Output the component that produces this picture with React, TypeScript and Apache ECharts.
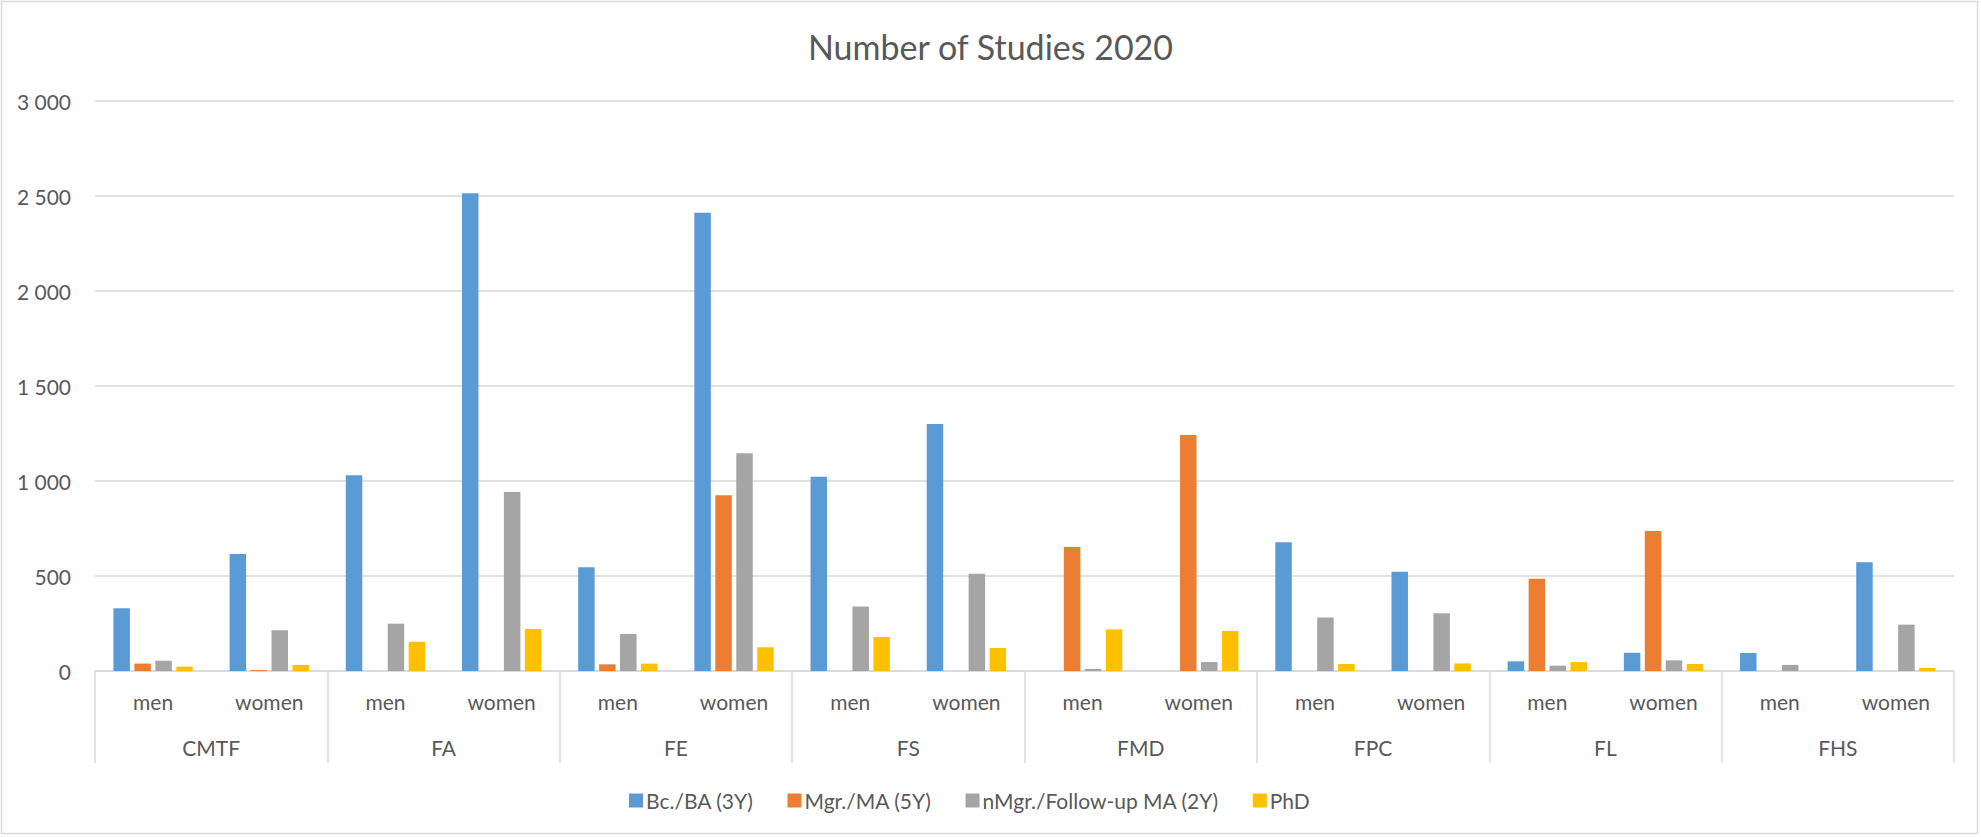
import React, { useEffect, useRef } from "react";
import * as echarts from "echarts";

const faculties = ["CMTF", "FA", "FE", "FS", "FMD", "FPC", "FL", "FHS"];
const genders = ["men", "women"];
const seriesNames = ["Bc./BA (3Y)", "Mgr./MA (5Y)", "nMgr./Follow-up MA (2Y)", "PhD"];
const bcBA = [330, 616, 1030, 2514, 546, 2412, 1023, 1300, 0, 0, 677, 523, 51, 96, 95, 572];
const mgrMA = [39, 5, 0, 0, 35, 925, 0, 0, 653, 1242, 0, 0, 486, 737, 0, 0];
const nMgr = [54, 214, 249, 942, 195, 1146, 339, 512, 11, 47, 281, 304, 28, 56, 32, 244];
const phd = [23, 32, 154, 221, 39, 125, 179, 121, 219, 211, 37, 40, 47, 37, 0, 16];
const colors = ["#5B9BD5", "#ED7D31", "#A5A5A5", "#FFC000"];

const FONT = "Lato";
const TXT = "#595959";
const LINE = "#D9D9D9";

export default function App() {
  const ref = useRef<HTMLDivElement>(null);
  useEffect(() => {
    if (!ref.current) return;
    const chart = echarts.init(ref.current, null, { renderer: "svg" });
    const cats: string[] = [];
    faculties.forEach(() => genders.forEach((g) => cats.push(g)));
    const all = [bcBA, mgrMA, nMgr, phd];
    chart.setOption({
      animation: false,
      backgroundColor: "#ffffff",
      textStyle: { fontFamily: FONT, color: TXT },
      title: {
        text: "Number of Studies 2020",
        left: "center",
        top: 24,
        textStyle: { fontFamily: FONT, fontSize: 34, fontWeight: "normal", color: TXT },
      },
      legend: {
        data: seriesNames,
        left: 624,
        top: 785,
        itemWidth: 14,
        itemHeight: 14,
        itemGap: 34,
        icon: "rect",
        textStyle: { fontFamily: FONT, fontSize: 21, color: TXT, padding: [0, 0, 0, -2] },
      },
      grid: { left: 95, right: 27, top: 101, bottom: 166, containLabel: false },
      xAxis: [
        {
          type: "category",
          data: cats,
          axisLine: { show: true, lineStyle: { color: LINE, width: 1.5 } },
          axisTick: { show: false },
          axisLabel: { interval: 0, margin: 20, fontFamily: FONT, fontSize: 21, color: TXT },
        },
        {
          type: "category",
          data: faculties,
          position: "bottom",
          axisLine: { show: false },
          axisTick: { show: true, length: 92, interval: 0, lineStyle: { color: LINE, width: 1.5 } },
          axisLabel: { interval: 0, margin: 66, fontFamily: FONT, fontSize: 21, color: TXT },
        },
      ],
      yAxis: {
        type: "value",
        min: 0,
        max: 3000,
        interval: 500,
        axisLine: { show: false },
        axisTick: { show: false },
        splitLine: { lineStyle: { color: LINE, width: 1.5 } },
        axisLabel: {
          margin: 24,
          fontFamily: FONT,
          fontSize: 21,
          color: TXT,
          formatter: (v: number) => String(v).replace(/\B(?=(\d{3})+(?!\d))/g, " "),
        },
      },
      series: all.map((d, i) => ({
        name: seriesNames[i],
        type: "bar",
        xAxisIndex: 0,
        data: d,
        barWidth: 16.5,
        barGap: "27%",
        itemStyle: { color: colors[i] },
      })),
      graphic: [
        {
          type: "rect",
          shape: { x: 1.5, y: 1.5, width: 1976, height: 832 },
          style: { fill: "none", stroke: LINE, lineWidth: 1.5 },
          silent: true,
        },
      ],
    });
    return () => chart.dispose();
  }, []);
  return (
    <div
      ref={ref}
      style={{ position: "fixed", left: 0, top: 0, width: 1981, height: 837 }}
    />
  );
}
